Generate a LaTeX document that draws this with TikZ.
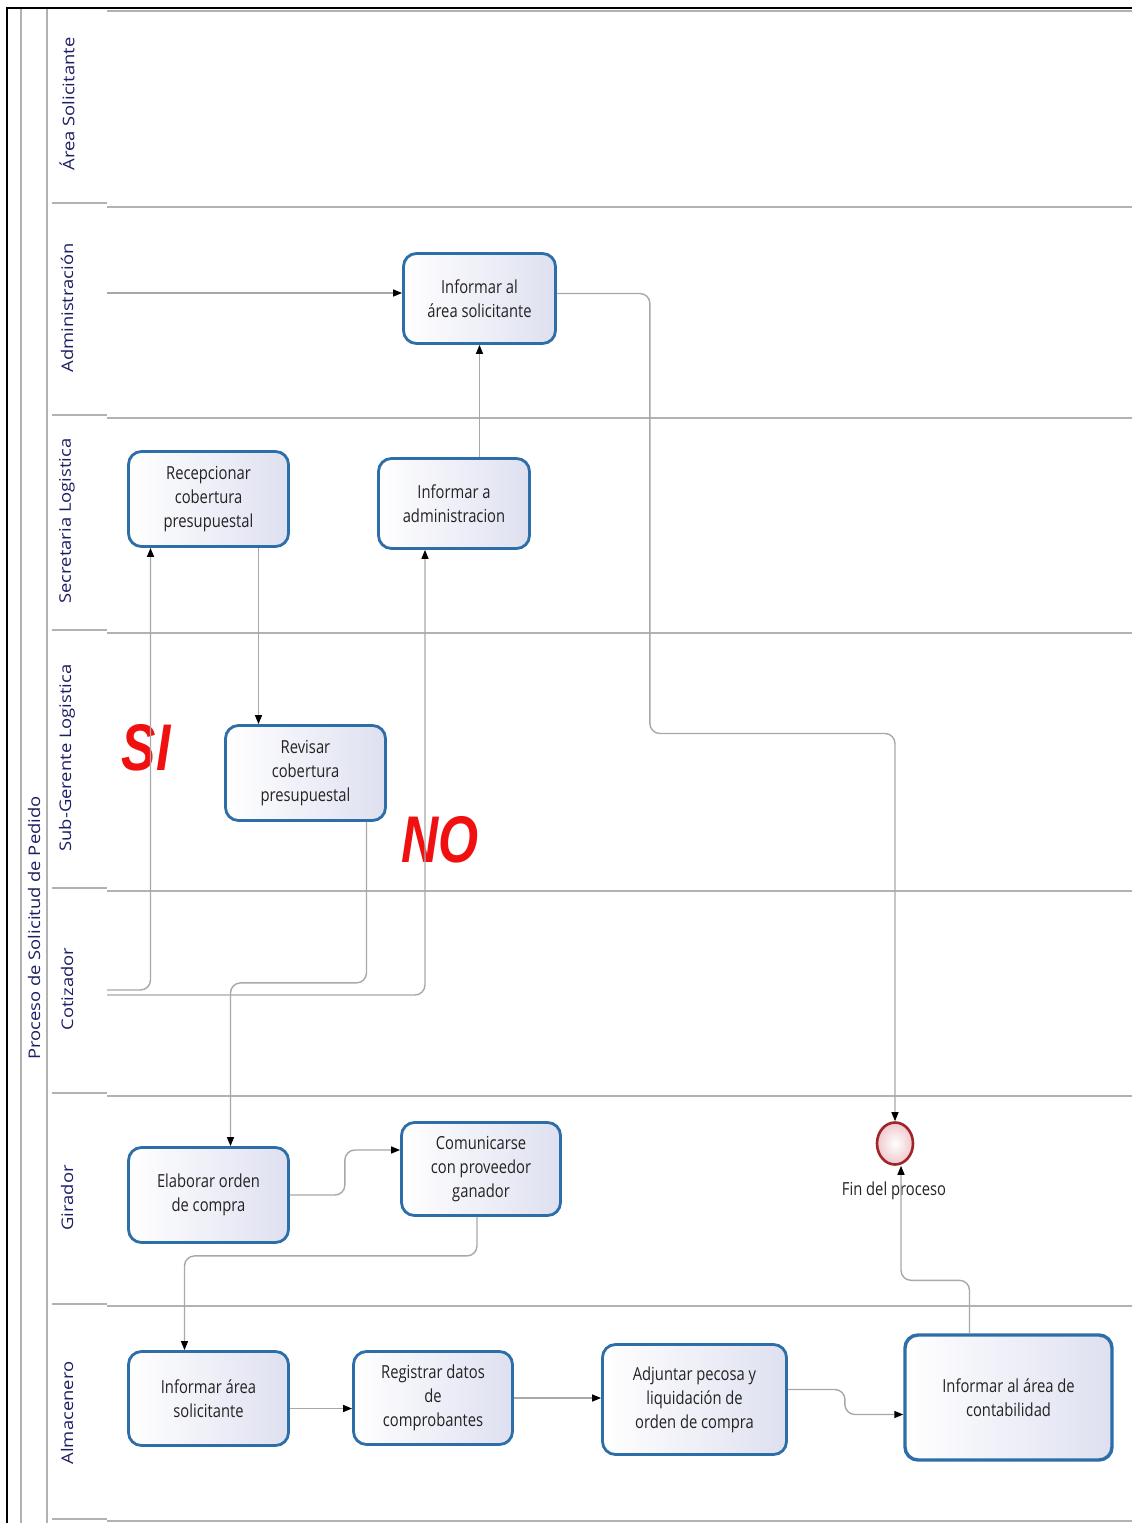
\documentclass[tikz,border=0pt]{standalone}
\usepackage{fontspec}
\usetikzlibrary{arrows.meta,shapes.geometric}
\newfontfamily\taskfont[FakeStretch=0.82]{Open Sans}
\newfontfamily\lanefont[FakeStretch=1.15]{Open Sans}
\newfontfamily\markfont[FakeStretch=0.78]{Liberation Sans}
\definecolor{taskblue}{RGB}{46,110,168}
\definecolor{tasklav}{RGB}{222,224,240}
\definecolor{tasktext}{RGB}{35,35,35}
\definecolor{lanenavy}{RGB}{30,30,100}
\definecolor{lanegray}{RGB}{178,178,178}
\definecolor{flowgray}{RGB}{168,168,168}
\definecolor{finred}{RGB}{160,36,42}
\definecolor{finpink}{RGB}{240,200,204}
\definecolor{markred}{RGB}{240,16,16}
\tikzset{
  task/.style={rectangle, rounded corners=13pt, draw=taskblue, line width=2.8pt,
    left color=white, right color=tasklav, align=center, text=tasktext,
    font=\taskfont\fontsize{18}{24}\selectfont, inner sep=0pt},
  lanelabel/.style={rotate=90, text=lanenavy, font=\lanefont\fontsize{16}{18}\selectfont},
  laneline/.style={draw=lanegray, line width=2.4pt},
  frameline/.style={draw=lanegray, line width=1.4pt},
  flow/.style={draw=flowgray, line width=1.4pt, rounded corners=10pt,
    -{Triangle[length=9pt,width=7pt,color=black]}},
  decision/.style={text=markred, font=\markfont\bfseries\itshape\fontsize{66}{66}\selectfont}
}
\begin{document}
\begin{tikzpicture}[x=1pt,y=-1pt]
\useasboundingbox (0,0) rectangle (1132,1523);
\fill[white] (0,0) rectangle (1132,1523);

% pool frame
\draw[black, line width=2.4pt] (7,1523) -- (7,8) -- (1132,8);
\draw[frameline] (21,9) -- (21,1523);
\draw[frameline] (47,9) -- (47,1523);

% lane separators
\draw[laneline] (107,11) -- (1132,11);
\foreach \s/\l in {203/207, 415/418, 630/633, 888/891, 1093/1096, 1304/1306, 1519/1521}{
  \draw[laneline] (52,\s) -- (107,\s);
  \draw[laneline] (107,\l) -- (1132,\l);
}

% pool and lane titles
\node[lanelabel] (pool) at (34,928) {Proceso de Solicitud de Pedido};
\node[lanelabel] (l1) at (67,104) {Área Solicitante};
\node[lanelabel] (l2) at (67,308) {Administración};
\node[lanelabel] (l3) at (67,521) {Secretaria Logistica};
\node[lanelabel] (l4) at (67,758) {Sub-Gerente Logistica};
\node[lanelabel] (l5) at (67,989) {Cotizador};
\node[lanelabel] (l6) at (67,1198) {Girador};
\node[lanelabel] (l7) at (67,1413) {Almacenero};

% tasks
\node[task, minimum width=152, minimum height=90] (infSol) at (479.5,298.5) {Informar al\\área solicitante};
\node[task, minimum width=160, minimum height=95] (recep) at (208.5,499) {Recepcionar\\cobertura\\presupuestal};
\node[task, minimum width=151, minimum height=90] (infAdm) at (454,503.5) {Informar a\\administracion};
\node[task, minimum width=160, minimum height=95] (revisar) at (305.5,773) {Revisar\\cobertura\\presupuestal};
\node[task, minimum width=160, minimum height=95] (elab) at (208.5,1195) {Elaborar orden\\de compra};
\node[task, minimum width=159, minimum height=93] (comun) at (481,1169) {Comunicarse\\con proveedor\\ganador};
\node[task, minimum width=160, minimum height=94] (infArea) at (208.5,1398.5) {Informar área\\solicitante};
\node[task, minimum width=159, minimum height=93] (registrar) at (433,1398) {Registrar datos\\de\\comprobantes};
\node[task, minimum width=184, minimum height=110] (adjuntar) at (694.5,1399.5) {Adjuntar pecosa y\\liquidación de\\orden de compra};
\node[task, minimum width=207, minimum height=125, line width=3.4pt] (contab) at (1008.5,1397.5) {Informar al área de\\contabilidad};

% end event
\node[ellipse, draw=finred, line width=2.6pt, minimum width=36, minimum height=42,
  inner color=white, outer color=finpink, inner sep=0pt] (fin) at (895,1143.5) {};
\node[text=tasktext, font=\taskfont\fontsize{18}{24}\selectfont] (finlbl) at (894,1191) {Fin del proceso};

% decision marks
\node[decision] (si) at (146,748) {SI};
\node[decision] (no) at (440,840) {NO};

% free ends entering from the lane border
\coordinate (admIn) at (107,293);
\coordinate (siIn) at (107,990);
\coordinate (noIn) at (107,995);
\coordinate (siUp) at ([xshift=-58pt]recep.south);
\coordinate (noUp) at ([xshift=-29pt]infAdm.south);
\coordinate (recOut) at ([xshift=50pt]recep.south);
\coordinate (revOut) at ([xshift=61pt]revisar.south);
\coordinate (elabIn) at ([xshift=22pt]elab.north);
\coordinate (areaIn) at ([xshift=-24pt]infArea.north);
\coordinate (regOut) at ([yshift=-10pt]infArea.east);
\coordinate (contOut) at ([xshift=-39pt]contab.north);
\coordinate (finIn) at ([xshift=6pt]fin.south);

% flows
\draw[flow] (admIn) -- (admIn -| infSol.west);
\draw[flow] (infAdm.north -| infSol.south) -- (infSol.south);
\draw[flow] (recOut) -- (recOut |- revisar.north);
\draw[flow] (siIn) -| (siUp);
\draw[flow] (noIn) -| (noUp);
\draw[flow] (revOut) -- ++(0,161) -| (elabIn);
\draw[flow] ([yshift=5pt]infSol.east) -- ++(93,0) -- ++(0,440) -| (fin.north);
\draw[flow] (elab.east) -- ++(55,0) |- ([yshift=19pt]comun.west);
\draw[flow] ([xshift=-4pt]comun.south) -- ++(0,39) -| (areaIn);
\draw[flow] (regOut) -- (regOut -| registrar.west);
\draw[flow] (registrar.east) -- (registrar.east -| adjuntar.west);
\draw[flow] ([yshift=10pt]adjuntar.east) -- ++(57,0) |- ([yshift=-17pt]contab.west);
\draw[flow] (contOut) -- ++(0,-53) -| (finIn);
\end{tikzpicture}
\end{document}
